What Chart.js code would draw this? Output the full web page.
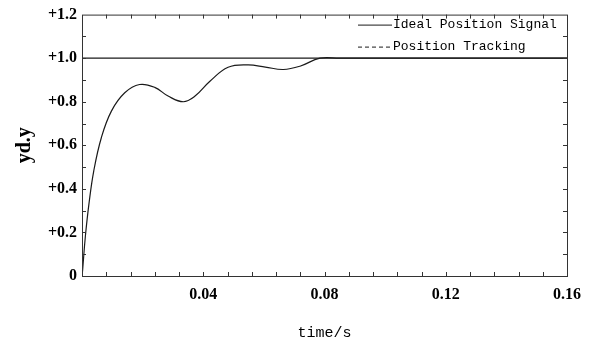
<!DOCTYPE html>
<html>
<head>
<meta charset="UTF-8">
<title>Position Tracking</title>
<script src="https://cdn.jsdelivr.net/npm/chart.js@4.4.0/dist/chart.umd.min.js"></script>
<style>
	body { margin: 0; background: #fff; }
	#wrap { width: 590px; height: 342px; }
</style>
<script>
	// time axis (s) and the tracked position
	let timeS  = [0, 0.0002, 0.0011, 0.0023, 0.0039, 0.0064, 0.0097, 0.0141, 0.019, 0.024, 0.0284, 0.0334, 0.0373, 0.0422, 0.0482, 0.0548, 0.0605, 0.0664, 0.0719, 0.0785, 0.085, 0.16];
	let trackY = [0, 0.027, 0.18, 0.332, 0.484, 0.636, 0.757, 0.841, 0.879, 0.866, 0.826, 0.80, 0.826, 0.894, 0.958, 0.969, 0.959, 0.948, 0.963, 1.0, 1.0, 1.0];
	// ideal position: unit step
	let idealT = [0, 0.16];
	let idealY = [1, 1];

	let xTickValues = [0.04, 0.08, 0.12, 0.16];
	let xTickLabels = ['0.04', '0.08', '0.12', '0.16'];
	let yTickValues = [0, 0.2, 0.4, 0.6, 0.8, 1.0, 1.2];
	let yTickLabels = ['0', '+0.2', '+0.4', '+0.6', '+0.8', '+1.0', '+1.2'];

	let legendNames = ['Ideal Position Signal', 'Position Tracking'];
</script>
</head>
<body>
<div id="wrap"><canvas id="myChart"></canvas></div>
<script>
	let lineColor = '#1a1a1a';

	// box round the plot, with small inward ticks on all four sides
	let frameBox = {
		id: 'frameBox',
		afterDraw: function(chart) {
			let ctx = chart.ctx;
			let a = chart.chartArea;
			let xs = chart.scales.x;
			let ys = chart.scales.y;
			ctx.save();
			ctx.strokeStyle = '#333';
			ctx.lineWidth = 1;
			ctx.strokeRect(a.left + 0.5, a.top + 0.5, a.right - a.left, a.bottom - a.top);
			ctx.beginPath();
			for (let i = 1; i < 20; i++) {
				let px = Math.round(xs.getPixelForValue(i * 0.008)) + 0.5;
				ctx.moveTo(px, a.bottom); ctx.lineTo(px, a.bottom - 4);
				ctx.moveTo(px, a.top); ctx.lineTo(px, a.top + 4);
			}
			for (let j = 1; j < 12; j++) {
				let py = Math.round(ys.getPixelForValue(j * 0.1)) + 0.5;
				ctx.moveTo(a.left, py); ctx.lineTo(a.left + 4, py);
				ctx.moveTo(a.right, py); ctx.lineTo(a.right - 4, py);
			}
			ctx.stroke();

			// legend, top right inside the plot
			ctx.font = '13px "Liberation Mono"';
			ctx.fillStyle = '#000';
			ctx.textBaseline = 'middle';
			let lx = a.right - 209;
			for (let k = 0; k < legendNames.length; k++) {
				let ly = a.top + 10 + k * 22;
				ctx.beginPath();
				ctx.setLineDash(k == 0 ? [] : [4, 3]);
				ctx.strokeStyle = lineColor;
				ctx.moveTo(lx, ly + 0.5);
				ctx.lineTo(lx + 34, ly + 0.5);
				ctx.stroke();
				ctx.fillText(legendNames[k], lx + 35, ly);
			}
			ctx.restore();
		}
	};

	let trackData = timeS.map(function(t, i) { return {x: t, y: trackY[i]}; });
	let idealData = idealT.map(function(t, i) { return {x: t, y: idealY[i]}; });

	new Chart('myChart', {
		type: 'line',
		data: {
			datasets: [{
				label: legendNames[0],
				data: idealData,
				borderColor: lineColor,
				borderWidth: 1.2,
				pointRadius: 0
			}, {
				label: legendNames[1],
				data: trackData,
				borderColor: lineColor,
				borderWidth: 1.2,
				pointRadius: 0,
				tension: 0.4
			}]
		},
		options: {
			responsive: true,
			maintainAspectRatio: false,
			animation: false,
			layout: { padding: { left: 0, right: 23, top: 13, bottom: 0 } },
			plugins: {
				legend: { display: false },
				tooltip: { enabled: false }
			},
			scales: {
				x: {
					type: 'linear',
					min: 0,
					max: 0.16,
					grid: { display: false, drawTicks: false },
					border: { display: false },
					afterBuildTicks: function(scale) {
						scale.ticks = xTickValues.map(function(v) { return {value: v}; });
					},
					afterFit: function(scale) { scale.height = 66; },
					ticks: {
						padding: 9,
						autoSkip: false,
						maxRotation: 0,
						color: '#000',
						font: { family: 'Liberation Serif', size: 16, weight: 'bold' },
						callback: function(v) {
							let i = xTickValues.indexOf(v);
							return i >= 0 ? xTickLabels[i] : '';
						}
					},
					title: {
						display: true,
						text: 'time/s',
						color: '#000',
						padding: { top: 4, bottom: 0 },
						font: { family: 'Liberation Mono', size: 15 }
					}
				},
				y: {
					min: 0,
					max: 1.2,
					grid: { display: false, drawTicks: false },
					border: { display: false },
					afterBuildTicks: function(scale) {
						scale.ticks = yTickValues.map(function(v) { return {value: v}; });
					},
					afterFit: function(scale) { scale.width = 82; },
					ticks: {
						padding: 5,
						autoSkip: false,
						color: '#000',
						font: { family: 'Liberation Serif', size: 16, weight: 'bold' },
						callback: function(v) {
							let i = yTickValues.indexOf(v);
							return i >= 0 ? yTickLabels[i] : '';
						}
					},
					title: {
						display: true,
						text: 'yd.y',
						color: '#000',
						padding: { top: 13, bottom: 0 },
						font: { family: 'Liberation Serif', size: 20, weight: 'bold' }
					}
				}
			}
		},
		plugins: [frameBox]
	});
</script>
</body>
</html>
